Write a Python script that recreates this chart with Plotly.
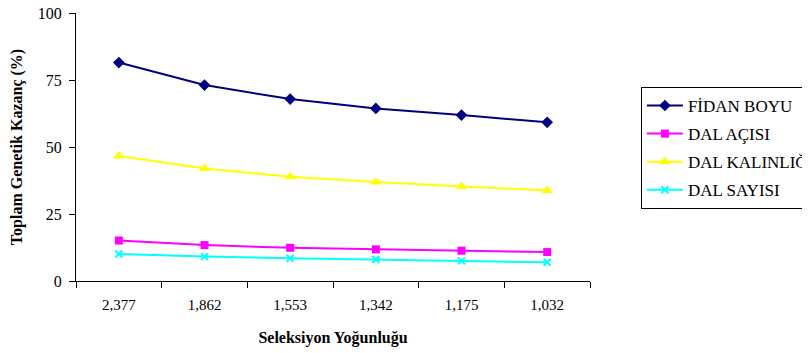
import plotly.graph_objects as go

categories = ["2,377", "1,862", "1,553", "1,342", "1,175", "1,032"]
fidan_boyu = [81.5, 73.1, 67.9, 64.4, 61.9, 59.2]
dal_acisi = [15.1, 13.4, 12.4, 11.8, 11.3, 10.8]
dal_kalinligi = [46.6, 42.0, 38.9, 36.9, 35.3, 33.8]
dal_sayisi = [10.1, 9.1, 8.5, 8.0, 7.5, 7.0]

series = [
    ("FİDAN BOYU", fidan_boyu, "#000080", "diamond", 9),
    ("DAL AÇISI", dal_acisi, "#FF00FF", "square", 8),
    ("DAL KALINLIĞI", dal_kalinligi, "#FFFF00", "triangle-up", 10),
    ("DAL SAYISI", dal_sayisi, "#00FFFF", "x-thin", 7),
]

fig = go.Figure()
for i, (name, vals, color, sym, size) in enumerate(series):
    marker = dict(color=color, symbol=sym, size=size)
    if sym == "x-thin":
        marker["line"] = dict(color=color, width=2)
    fig.add_trace(go.Scatter(
        x=categories, y=vals, name=name, mode="lines+markers",
        line=dict(color=color, width=2), marker=marker, legendgroup=f"g{i}",
    ))

serif = "Times New Roman"
fig.update_layout(
    width=802, height=345,
    margin=dict(l=68, r=220, t=5, b=72, autoexpand=False),
    paper_bgcolor="white", plot_bgcolor="white",
    font=dict(family=serif, size=14, color="black"),
    xaxis=dict(
        type="category", range=[-0.5, 5.5], tickson="boundaries", ticks="outside", ticklen=6,
        tickcolor="black", showline=True, linecolor="black", linewidth=1,
        showgrid=False, zeroline=False, automargin=False, ticklabelstandoff=10,
        title=dict(text="<b>Seleksiyon Yoğunluğu</b>", font=dict(family=serif, size=16), standoff=19),
        tickfont=dict(family=serif, size=15),
    ),
    yaxis=dict(
        range=[0, 100], tickvals=[0, 25, 50, 75, 100], ticks="outside", ticklen=6,
        tickcolor="black", showline=True, linecolor="black", linewidth=1,
        showgrid=False, zeroline=False, automargin=False, ticklabeloverflow="allow",
        ticklabelstandoff=4,
        title=dict(text="<b>Toplam Genetik Kazanç (%)</b>", font=dict(family=serif, size=16), standoff=17),
        tickfont=dict(family=serif, size=16),
    ),
    legend=dict(
        x=1.099, y=0.724, xanchor="left", yanchor="top",
        bgcolor="white", bordercolor="black", borderwidth=1,
        font=dict(family=serif, size=17), tracegroupgap=3, itemwidth=36,
    ),
    showlegend=True,
)

fig.write_html("out.html")
